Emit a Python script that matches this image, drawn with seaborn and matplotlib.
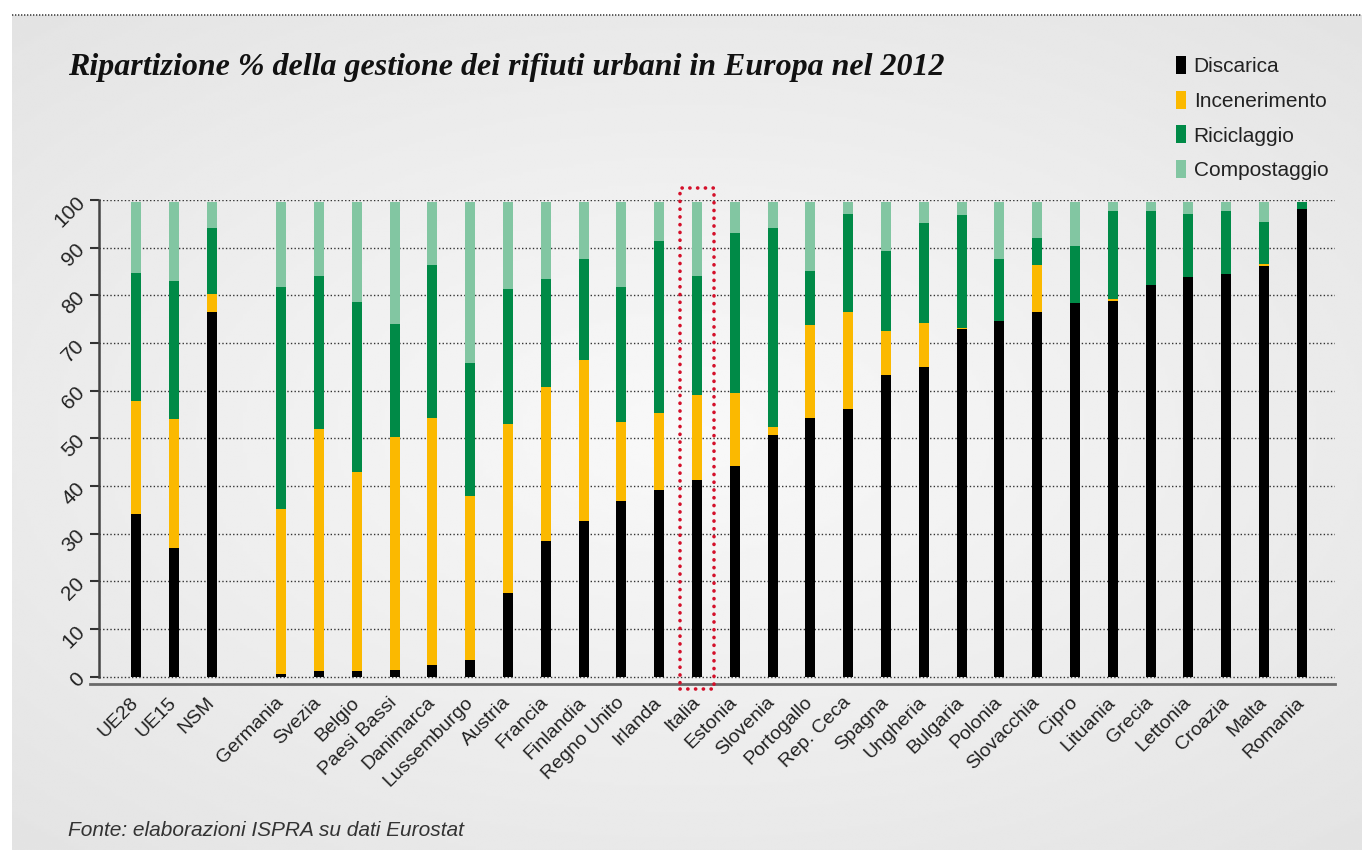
import numpy as np
import pandas as pd
import matplotlib
matplotlib.use("Agg")
import matplotlib.pyplot as plt
import seaborn as sns
from matplotlib.patches import Patch, Rectangle
from matplotlib.lines import Line2D

# ---------------- data ----------------
countries = ["UE28", "UE15", "NSM", "Germania", "Svezia", "Belgio", "Paesi Bassi",
             "Danimarca", "Lussemburgo", "Austria", "Francia", "Finlandia",
             "Regno Unito", "Irlanda", "Italia", "Estonia", "Slovenia", "Portogallo",
             "Rep. Ceca", "Spagna", "Ungheria", "Bulgaria", "Polonia", "Slovacchia",
             "Cipro", "Lituania", "Grecia", "Lettonia", "Croazia", "Malta", "Romania"]
discarica = [34.1, 27.0, 76.5, 0.6, 1.2, 1.2, 1.4, 2.4, 3.5, 17.6, 28.5, 32.7,
             36.9, 39.2, 41.3, 44.2, 50.7, 54.3, 56.2, 63.3, 65.0, 72.9, 74.6, 76.5,
             78.4, 78.8, 82.2, 83.8, 84.5, 86.2, 98.1]
incenerimento = [23.7, 27.1, 3.8, 34.6, 50.8, 41.7, 48.9, 51.9, 34.4, 35.4, 32.3, 33.7,
                 16.5, 16.1, 17.8, 15.3, 1.7, 19.5, 20.3, 9.2, 9.2, 0.3, 0.0, 9.9,
                 0.0, 0.4, 0.0, 0.0, 0.0, 0.4, 0.0]
riciclaggio = [26.9, 28.9, 13.8, 46.5, 32.1, 35.7, 23.7, 32.1, 27.9, 28.3, 22.6, 21.2,
               28.3, 36.1, 25.0, 33.6, 41.7, 11.3, 20.6, 16.8, 21.0, 23.7, 13.0, 5.6,
               11.9, 18.5, 15.5, 13.3, 13.2, 8.8, 1.4]
compostaggio = [14.8, 16.5, 5.4, 17.8, 15.4, 20.9, 25.5, 13.1, 33.7, 18.2, 16.1, 11.9,
                17.8, 8.1, 15.4, 6.4, 5.4, 14.4, 2.4, 10.2, 4.3, 2.6, 11.9, 7.5,
                9.2, 1.8, 1.8, 2.4, 1.8, 4.1, 0.0]
series = ["Discarica", "Incenerimento", "Riciclaggio", "Compostaggio"]
colors = ["#000000", "#fbb900", "#008a47", "#82c6a2"]
yticks = [0, 10, 20, 30, 40, 50, 60, 70, 80, 90, 100]

title = "Ripartizione % della gestione dei rifiuti urbani in Europa nel 2012"
source = "Fonte: elaborazioni ISPRA su dati Eurostat"

# ---------------- frame ----------------
W, H = 1362, 850
fig = plt.figure(figsize=(W / 100, H / 100), dpi=100, facecolor="white")

# background panel with soft radial gradient
bg = fig.add_axes([12 / W, 0, 1 - 12 / W, (H - 15) / H], zorder=-10)
gx, gy = np.meshgrid(np.linspace(-1, 1, 400), np.linspace(-1, 1, 300))
r = np.sqrt((gx * 1.0) ** 2 + (gy * 1.1) ** 2)
shade = 0.975 - 0.085 * np.clip(r, 0, 1.5) / 1.5
bg.imshow(shade, cmap="gray", vmin=0, vmax=1, aspect="auto", interpolation="bilinear")
bg.axis("off")
fig.add_artist(Line2D([12 / W, 1], [1 - 14.5 / H, 1 - 14.5 / H], transform=fig.transFigure,
                      color="#444444", lw=1.2, linestyle=(0, (0.8, 1.0))))

sns.set_style("white")
plt.rcParams["font.family"] = ["Liberation Sans", "DejaVu Sans"]

ax = fig.add_axes([90 / W, 1 - 684 / H, (1335 - 90) / W, (684 - 200) / H])
ax.patch.set_alpha(0)

# x positions: gap after the three aggregates
gap = 0.84
xpos = [i if i < 3 else i + gap for i in range(len(countries))]

df = pd.DataFrame({"pos": xpos, "paese": countries, "Discarica": discarica,
                   "Incenerimento": incenerimento, "Riciclaggio": riciclaggio,
                   "Compostaggio": compostaggio})
cum = df[series].cumsum(axis=1)

for s, c in reversed(list(zip(series, colors))):
    sns.barplot(x=df["pos"], y=cum[s], native_scale=True, orient="x", color=c,
                width=0.265, errorbar=None, saturation=1, linewidth=0, ax=ax, zorder=3)

xl = (-1.217, 31.72)
ax.set_xlim(*xl)
ax.set_ylim(-1.5, 100)
yaxis_x = (99 - 136) / 37.8

# dotted gridlines
ax.hlines(yticks, yaxis_x, xl[1], colors="#333333", linewidth=1.0,
          linestyles=[(0, (1.0, 1.6))], zorder=1)

ax.set_xticks(xpos, countries)
ax.set_yticks(yticks, [str(t) for t in yticks])
ax.set_xlabel("")
ax.set_ylabel("")
ax.tick_params(axis="x", bottom=False, length=0, pad=11.5, labelsize=14,
               labelcolor="#222222", labelrotation=45)
ax.tick_params(axis="y", left=True, length=6.5, width=1.5, color="#333333", pad=1,
               direction="out", labelsize=15, labelcolor="#222222", labelrotation=45)
for lab in ax.get_xticklabels() + ax.get_yticklabels():
    lab.set_rotation_mode("anchor")
    lab.set_ha("right")
    lab.set_va("center")

for side in ["top", "right"]:
    ax.spines[side].set_visible(False)
ax.spines["left"].set_position(("data", yaxis_x))
ax.spines["left"].set_bounds(0, 100)
ax.spines["left"].set_color("#444444")
ax.spines["left"].set_linewidth(1.8)
ax.spines["bottom"].set_color("#6a6a6a")
ax.spines["bottom"].set_linewidth(2.0)

# highlight Italia
ii = countries.index("Italia")
rect = Rectangle((xpos[ii] - 0.44, -2.5), 0.88, 105.0, fill=False, edgecolor="#d4102a",
                 linewidth=2.6, linestyle=(0, (0.05, 2.1)), clip_on=False, zorder=5)
rect.set_capstyle("round")
ax.add_patch(rect)

# title
fig.text(68 / W, 1 - 68 / H, title, fontsize=23, fontweight="bold", fontstyle="italic",
         family=["Liberation Serif", "DejaVu Serif"], color="#111111", va="center", ha="left")

# legend
handles = [Patch(facecolor=c, edgecolor="none") for c in colors]
fig.legend(handles, series, loc="upper left", bbox_to_anchor=(1176 / W, 1 - 56 / H),
           frameon=False, fontsize=15, handlelength=0.5, handleheight=0.95,
           handletextpad=0.35, labelspacing=0.7, borderpad=0, borderaxespad=0,
           labelcolor="#222222")

# source
fig.text(68 / W, 1 - 831 / H, source, fontsize=15, fontstyle="italic", color="#333333",
         va="center", ha="left")

fig.savefig("out.png", dpi=100, facecolor=fig.get_facecolor())
